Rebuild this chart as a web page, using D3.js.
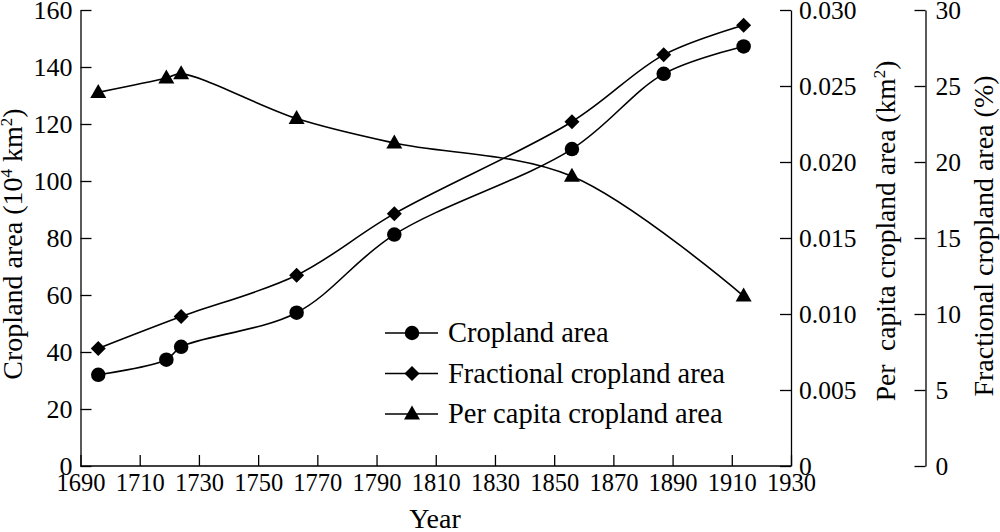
<!DOCTYPE html>
<html><head><meta charset="utf-8">
<script src="https://cdn.jsdelivr.net/npm/d3@7"></script>
<style>
html,body{margin:0;padding:0;background:#fff;}
svg text{font-family:"Liberation Serif","Times New Roman","DejaVu Serif",serif;fill:#000;}
</style></head>
<body><svg id="c" width="1000" height="532" font-family="Liberation Serif, serif"></svg>
<script>
const cropYears = [1696, 1719, 1724, 1763, 1796, 1856, 1887, 1914];
const cropArea = [32, 37.3, 41.8, 53.8, 81.2, 111.2, 137.6, 147.2];
const fracYears = [1696, 1724, 1763, 1796, 1856, 1887, 1914];
const fracArea = [7.73, 9.83, 12.55, 16.6, 22.65, 27.05, 29.0];
const perYears = [1696, 1719, 1724, 1763, 1796, 1856, 1914];
const perCapita = [0.02458, 0.02552, 0.0258, 0.02286, 0.02125, 0.01906, 0.01118];
const xTicks = [1690,1710,1730,1750,1770,1790,1810,1830,1850,1870,1890,1910,1930];
const leftTicks = [0,20,40,60,80,100,120,140,160];
const perTicks = [0,0.005,0.010,0.015,0.020,0.025,0.030];
const fracTicks = [0,5,10,15,20,25,30];
const legendLabels = ["Cropland area","Fractional cropland area","Per capita cropland area"];

const svg = d3.select("#c");
const L = 80.5, R = 791, T = 10, B = 466, R2 = 925.5;
const x = d3.scaleLinear().domain([1690,1930]).range([L,R]);
const yL = d3.scaleLinear().domain([0,160]).range([B,T]);
const yP = d3.scaleLinear().domain([0,0.030]).range([B,T]);
const yF = d3.scaleLinear().domain([0,30]).range([B,T]);

function styleAxis(g, fs){
  g.attr("font-family", null).attr("font-size", null);
  g.selectAll("path,line").attr("stroke","#000").attr("stroke-width",1.3);
  g.selectAll("text").style("font-size",fs+"px").attr("fill","#000");
}
const gx = svg.append("g").attr("transform",`translate(0,${B})`)
  .call(d3.axisBottom(x).tickValues(xTicks).tickFormat(d3.format("d")).tickSizeInner(-11).tickSizeOuter(0).tickPadding(8));
styleAxis(gx, 24.5);
const gl = svg.append("g").attr("transform",`translate(${L},0)`)
  .call(d3.axisLeft(yL).tickValues(leftTicks).tickSizeInner(-11).tickSizeOuter(0).tickPadding(8));
styleAxis(gl, 26);
const gp = svg.append("g").attr("transform",`translate(${R},0)`)
  .call(d3.axisRight(yP).tickValues(perTicks).tickFormat(d=>d===0?"0":d3.format(".3f")(d)).tickSizeInner(-11).tickSizeOuter(0).tickPadding(8));
styleAxis(gp, 25.5);
const gf = svg.append("g").attr("transform",`translate(${R2},0)`)
  .call(d3.axisRight(yF).tickValues(fracTicks).tickSizeInner(-11).tickSizeOuter(0).tickPadding(10));
styleAxis(gf, 25.5);
gx.select(".domain").attr("d",`M${L},0H${R}`);

// axis titles
svg.append("text").attr("x",435).attr("y",528).attr("text-anchor","middle").style("font-size","28px").text("Year");
function sup(t, s){ t.append("tspan").attr("dy",-10).style("font-size","17px").text(s); }
const t1 = svg.append("text").attr("transform",`translate(22,244) rotate(-90)`).attr("text-anchor","middle").style("font-size","28px");
t1.append("tspan").text("Cropland area (10");
sup(t1,"4");
t1.append("tspan").attr("dy",10).text(" km");
sup(t1,"2");
t1.append("tspan").attr("dy",10).text(")");
const t2 = svg.append("text").attr("transform",`translate(895,231) rotate(-90)`).attr("text-anchor","middle").style("font-size","27.5px").style("white-space","pre");
t2.append("tspan").text("Per  capita cropland area (km");
sup(t2,"2");
t2.append("tspan").attr("dy",10).text(")");
svg.append("text").attr("transform",`translate(993,236) rotate(-90)`).attr("text-anchor","middle").style("font-size","28px").text("Fractional cropland area (%)");

const curve = d3.curveCatmullRom.alpha(0.5);
function series(years, vals, y){ return years.map((yr,i)=>({x:x(yr), y:y(vals[i])})); }
const sCrop = series(cropYears, cropArea, yL);
const sFrac = series(fracYears, fracArea, yF);
const sPer = series(perYears, perCapita, yP);
const line = d3.line().x(d=>d.x).y(d=>d.y).curve(curve);
[sCrop,sFrac,sPer].forEach(s=>{
  svg.append("path").attr("d",line(s)).attr("fill","none").attr("stroke","#000").attr("stroke-width",1.6);
});
const symCircle = () => d3.symbol().type(d3.symbolCircle).size(165)();
const symDiamond = () => "M0,-7.5L7.5,0L0,7.5L-7.5,0Z";
const symTri = () => "M0,-8.5L8,5.5L-8,5.5Z";
function markers(s, sym){
  svg.append("g").selectAll("path").data(s).join("path")
    .attr("transform",d=>`translate(${d.x},${d.y})`).attr("d",sym()).attr("fill","#000");
}
markers(sCrop, symCircle);
markers(sFrac, symDiamond);
markers(sPer, symTri);

// legend
const syms = [symCircle, symDiamond, symTri];
const ly = d3.scalePoint().domain(legendLabels).range([333,414]);
legendLabels.forEach((lab,i)=>{
  const yy = ly(lab);
  svg.append("line").attr("x1",385).attr("x2",438).attr("y1",yy).attr("y2",yy).attr("stroke","#000").attr("stroke-width",1.6);
  svg.append("path").attr("transform",`translate(412,${yy})`).attr("d",syms[i]()).attr("fill","#000");
  svg.append("text").attr("x",448).attr("y",yy+9).style("font-size","28.5px").text(lab);
});
</script></body></html>
